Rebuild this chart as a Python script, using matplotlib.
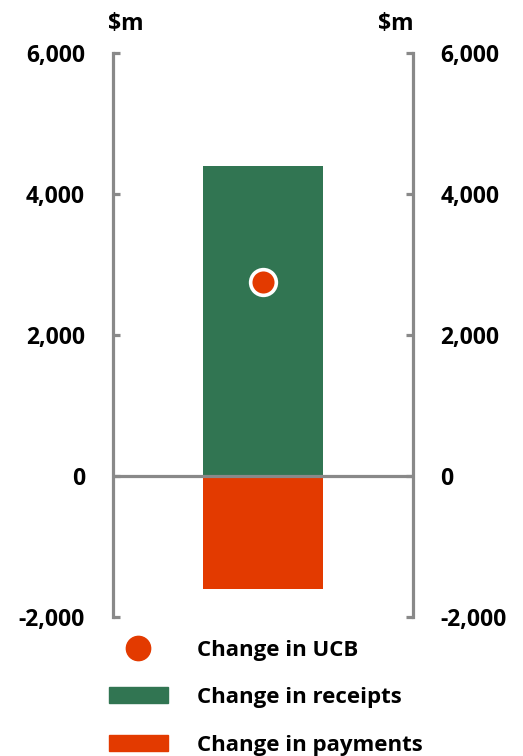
import matplotlib
matplotlib.use("Agg")
import matplotlib.pyplot as plt
from matplotlib.lines import Line2D
from matplotlib.patches import Patch

plt.rcParams['font.family'] = ['Open Sans', 'DejaVu Sans']
plt.rcParams['font.weight'] = 'bold'

# Data ($m)
categories = ["Change"]
receipts = [4400]
payments = [-1600]
ucb = [2750]
yticks = [-2000, 0, 2000, 4000, 6000]
ytick_labels = ["-2,000", "0", "2,000", "4,000", "6,000"]

GREEN = "#317552"
RED = "#E33A00"
GREY = "#898989"
FS = 16.5
LFS = 16

fig = plt.figure(figsize=(5.23, 7.56), dpi=100)
ax = fig.add_axes([0.217, 0.1839, 0.5736, 0.746])

x = [0.5]
ax.bar(x, receipts, width=0.40, color=GREEN, zorder=2)
ax.bar(x, payments, width=0.40, color=RED, zorder=2)
ax.axhline(0, color=GREY, lw=2.3, zorder=3)
ax.plot(x, ucb, 'o', ms=18.5, color=RED, mec='white', mew=2.6, zorder=4)

ax.set_xlim(0, 1)
ax.set_ylim(-2000, 6000)
ax.set_xticks([])
ax.set_yticks(yticks)
ax.set_yticklabels(ytick_labels)
ax.tick_params(axis='y', direction='in', length=5, width=2.3, color=GREY,
               labelsize=FS, pad=20.5, left=True, right=True,
               labelleft=True, labelright=False)
for s in ['top', 'bottom']:
    ax.spines[s].set_visible(False)
for s in ['left', 'right']:
    ax.spines[s].set_color(GREY)
    ax.spines[s].set_linewidth(2.3)

ax2 = ax.twinx()
ax2.set_ylim(ax.get_ylim())
ax2.set_yticks(yticks)
ax2.set_yticklabels(ytick_labels)
ax2.tick_params(axis='y', direction='in', length=5, width=2.3, color=GREY,
                labelsize=FS, pad=19.5)
for s in ['top', 'bottom', 'left', 'right']:
    ax2.spines[s].set_visible(False)

for lab in ax.get_yticklabels() + ax2.get_yticklabels():
    lab.set_fontweight('bold')

fig.text(0.206, 0.968, "$m", fontsize=FS, fontweight='bold', ha='left', va='center')
fig.text(0.791, 0.968, "$m", fontsize=FS, fontweight='bold', ha='right', va='center')

handles = [
    Line2D([], [], marker='o', ls='none', ms=17.5, color=RED, mec=RED),
    Patch(color=GREEN),
    Patch(color=RED),
]
labels = ["Change in UCB", "Change in receipts", "Change in payments"]
fig.legend(handles, labels, loc='upper left', bbox_to_anchor=(0.208, 0.154),
           frameon=False, handlelength=2.65, handleheight=0.73,
           handletextpad=1.3, labelspacing=1.2, borderpad=0, borderaxespad=0,
           prop={'weight': 'bold', 'size': LFS})

fig.savefig("out.png", dpi=100)
